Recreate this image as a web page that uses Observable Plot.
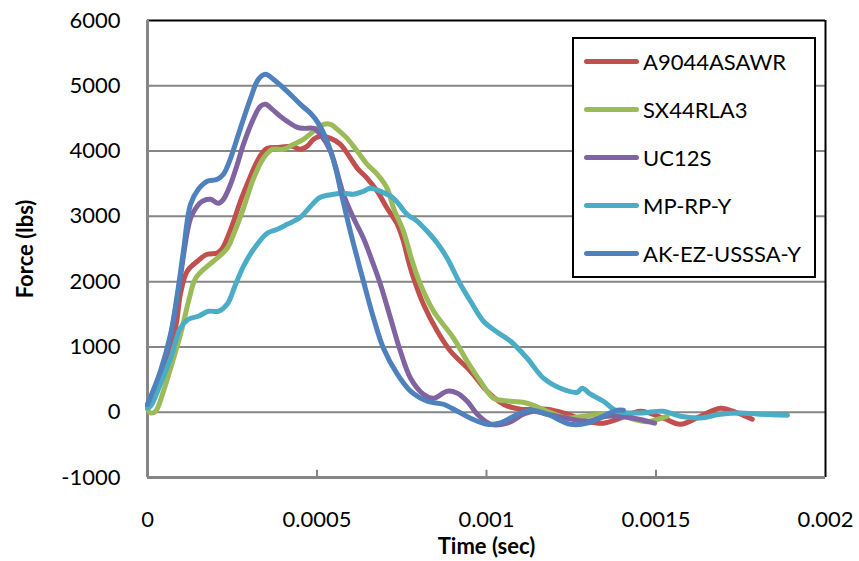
<!DOCTYPE html>
<html>
<head>
<meta charset="utf-8">
<script src="https://cdn.jsdelivr.net/npm/d3@7"></script>
<script src="https://cdn.jsdelivr.net/npm/@observablehq/plot@0.6"></script>
<style>
  body { margin: 0; background: #fff; }
  #wrap { position: relative; width: 859px; height: 561px; font-family: Lato, "Open Sans", sans-serif; }
  #wrap svg [aria-label="x-axis label"] text,
  #wrap svg [aria-label="y-axis label"] text { font-weight: bold; }
  #legend { position: absolute; left: 572px; top: 37px; width: 240px; height: 237px;
            border: 2px solid #000; background: #fff; }
  .row { position: absolute; left: 10px; height: 26px; display: flex; align-items: center; }
  .sw { width: 55px; height: 5px; border-radius: 3px; margin-right: 4px; }
  .lab { font-size: 22px; color: #000; white-space: nowrap; }
</style>
</head>
<body>
<div id="wrap"></div>
<script>
// ---- data (time in seconds, force in lbs) ----
const seriesNames = ["A9044ASAWR", "SX44RLA3", "UC12S", "MP-RP-Y", "AK-EZ-USSSA-Y"];
const seriesColors = ["#C0504D", "#9BBB59", "#8064A2", "#4BACC6", "#4F81BD"];

const A9044ASAWR = [
  [0, 92], [0.000038, 505], [0.000068, 934], [0.000086, 1393], [0.000097, 1807], [0.000117, 2159],
  [0.000147, 2312], [0.000176, 2419], [0.000206, 2439], [0.000221, 2511], [0.000235, 2664],
  [0.000254, 2924], [0.000274, 3230], [0.000294, 3491], [0.000319, 3797], [0.000338, 3965],
  [0.000353, 4042], [0.000392, 4057], [0.000427, 4073], [0.000451, 4027], [0.000471, 4073],
  [0.000490, 4180], [0.000510, 4226], [0.000540, 4195], [0.000569, 4103], [0.000599, 3889],
  [0.000619, 3736], [0.000648, 3583], [0.000678, 3383], [0.000707, 3123], [0.000737, 2878],
  [0.000755, 2618], [0.000770, 2312], [0.000785, 2052], [0.000814, 1653], [0.000855, 1240],
  [0.000894, 934], [0.000953, 628], [0.001002, 322], [0.001050, 122], [0.001100, 46],
  [0.001179, 46], [0.001238, -31], [0.001297, -138], [0.001345, -168], [0.001395, -92],
  [0.001454, 15], [0.001522, -92], [0.001572, -184], [0.001631, -61], [0.001690, 61],
  [0.001740, -11], [0.001784, -107]
];
const SX44RLA3 = [
  [0, 46], [0.000009, -11], [0.000024, 15], [0.000047, 322], [0.000077, 827], [0.000102, 1286],
  [0.000121, 1699], [0.000142, 2052], [0.000176, 2235], [0.000206, 2362], [0.000235, 2511],
  [0.000254, 2725], [0.000283, 3123], [0.000313, 3583], [0.000342, 3889], [0.000368, 4027],
  [0.000401, 4027], [0.000431, 4103], [0.000460, 4180], [0.000490, 4302], [0.000519, 4409],
  [0.000540, 4409], [0.000560, 4333], [0.000589, 4195], [0.000619, 3996], [0.000648, 3797],
  [0.000678, 3644], [0.000707, 3430], [0.000726, 3123], [0.000755, 2771], [0.000781, 2312],
  [0.000805, 1960], [0.000844, 1546], [0.000903, 1133], [0.000943, 781], [0.000982, 475],
  [0.001021, 214], [0.001071, 168], [0.001120, 138], [0.001179, 15], [0.001238, -87],
  [0.001286, -61], [0.001336, -31], [0.001386, -31], [0.001434, -107], [0.001474, -145],
  [0.001533, -61]
];
const UC12S = [
  [0, 92], [0.000038, 597], [0.000068, 1164], [0.000091, 1853], [0.000115, 2695], [0.000127, 2970],
  [0.000142, 3123], [0.000161, 3230], [0.000186, 3261], [0.000209, 3200], [0.000224, 3261],
  [0.000245, 3491], [0.000265, 3797], [0.000283, 4103], [0.000313, 4501], [0.000333, 4685],
  [0.000348, 4716], [0.000368, 4639], [0.000392, 4532], [0.000412, 4455], [0.000442, 4363],
  [0.000460, 4348], [0.000490, 4348], [0.000510, 4256], [0.000540, 3996], [0.000578, 3338],
  [0.000608, 2970], [0.000637, 2664], [0.000663, 2312], [0.000687, 1960], [0.000717, 1439],
  [0.000746, 934], [0.000776, 521], [0.000814, 276], [0.000844, 214], [0.000884, 322],
  [0.000914, 291], [0.000943, 168], [0.000973, -31], [0.001012, -184], [0.001061, -168],
  [0.001109, -31], [0.001139, 15], [0.001179, -31], [0.001238, -92], [0.001297, -138],
  [0.001356, -61], [0.001434, -92], [0.001496, -168]
];
const MP_RP_Y = [
  [0, 61], [0.000009, 92], [0.000038, 429], [0.000068, 827], [0.000097, 1286], [0.000121, 1424],
  [0.000150, 1470], [0.000180, 1546], [0.000209, 1546], [0.000235, 1653], [0.000260, 1960],
  [0.000283, 2235], [0.000313, 2496], [0.000353, 2741], [0.000383, 2802], [0.000412, 2878],
  [0.000451, 2985], [0.000481, 3154], [0.000510, 3292], [0.000549, 3338], [0.000578, 3353],
  [0.000608, 3338], [0.000637, 3383], [0.000658, 3430], [0.000687, 3383], [0.000726, 3276],
  [0.000766, 3031], [0.000796, 2924], [0.000825, 2771], [0.000855, 2587], [0.000884, 2358],
  [0.000923, 1960], [0.000953, 1699], [0.000991, 1393], [0.001032, 1225], [0.001071, 1087],
  [0.001120, 827], [0.001168, 521], [0.001218, 367], [0.001268, 306], [0.001282, 367],
  [0.001307, 276], [0.001345, 168], [0.001386, 15], [0.001454, -11], [0.001522, 15],
  [0.001572, -61], [0.001631, -87], [0.001690, -31], [0.001749, -11], [0.001808, -31],
  [0.001888, -46]
];
const AK_EZ_USSSA_Y = [
  [0, 122], [0.000038, 628], [0.000068, 1194], [0.000088, 1807], [0.000106, 2465], [0.000127, 3185],
  [0.000150, 3414], [0.000176, 3537], [0.000206, 3567], [0.000224, 3644], [0.000245, 3889],
  [0.000274, 4348], [0.000304, 4807], [0.000327, 5098], [0.000348, 5175], [0.000372, 5098],
  [0.000412, 4915], [0.000451, 4715], [0.000481, 4578], [0.000504, 4425], [0.000530, 4149],
  [0.000555, 3736], [0.000569, 3414], [0.000589, 2970], [0.000608, 2572], [0.000637, 2006],
  [0.000667, 1439], [0.000696, 980], [0.000737, 582], [0.000776, 322], [0.000825, 168],
  [0.000873, 122], [0.000914, 15], [0.000953, -92], [0.001002, -184], [0.001041, -164],
  [0.001080, -61], [0.001130, 31], [0.001179, -31], [0.001248, -184], [0.001297, -168],
  [0.001356, -31], [0.001386, 31], [0.001404, 31]
];
const seriesData = [A9044ASAWR, SX44RLA3, UC12S, MP_RP_Y, AK_EZ_USSSA_Y];

const xTicks = [0, 0.0005, 0.001, 0.0015, 0.002];
const yTicks = [-1000, 0, 1000, 2000, 3000, 4000, 5000, 6000];
const xDomain = [0, 0.002];
const yDomain = [-1000, 6000];

// ---- build table ----
const rows = [];
seriesData.forEach((arr, i) => arr.forEach(([t, f]) => rows.push({series: seriesNames[i], t, f})));

const grid = "#868686";
const chart = Plot.plot({
  width: 859,
  height: 561,
  marginLeft: 147,
  marginRight: 34,
  marginTop: 20,
  marginBottom: 84,
  style: {fontFamily: "Lato, 'Open Sans', sans-serif", fontSize: "22px", color: "#000", background: "#fff"},
  x: {domain: xDomain, ticks: xTicks},
  y: {domain: yDomain, ticks: yTicks},
  color: {domain: seriesNames, range: seriesColors},
  marks: [
    Plot.gridY(yTicks.slice(1, -1), {stroke: grid, strokeOpacity: 1, strokeWidth: 2}),
    Plot.ruleY([yDomain[1]], {stroke: "#000", strokeWidth: 2}),
    Plot.ruleX([xDomain[1]], {stroke: "#000", strokeWidth: 2}),
    Plot.ruleX([xDomain[0]], {stroke: grid, strokeWidth: 3}),
    Plot.ruleY([yDomain[0]], {stroke: grid, strokeWidth: 3}),
    Plot.ruleX(xTicks.slice(1, -1), {y1: yDomain[0], y2: yDomain[0] + 110, stroke: grid, strokeWidth: 2}),
    Plot.axisX(xTicks, {tickSize: 0, tickPadding: 34, tickFormat: d => String(d), fontSize: 22,
      label: "Time (sec)", labelAnchor: "center", labelArrow: "none", labelOffset: 76}),
    Plot.axisY(yTicks, {tickSize: 0, tickPadding: 27, tickFormat: d => String(d), fontSize: 22,
      label: "Force (lbs)", labelAnchor: "center", labelArrow: "none", labelOffset: 130}),
    Plot.line(rows, {x: "t", y: "f", z: "series", stroke: "series", strokeWidth: 5,
      curve: "catmull-rom", strokeLinecap: "round", strokeLinejoin: "round"})
  ]
});

const wrap = document.getElementById("wrap");
wrap.appendChild(chart);

// ---- legend ----
const legend = document.createElement("div");
legend.id = "legend";
seriesNames.forEach((name, i) => {
  const row = document.createElement("div");
  row.className = "row";
  row.style.top = (9 + i * 48) + "px";
  const sw = document.createElement("div");
  sw.className = "sw";
  sw.style.background = seriesColors[i];
  const lab = document.createElement("span");
  lab.className = "lab";
  lab.textContent = name;
  row.appendChild(sw);
  row.appendChild(lab);
  legend.appendChild(row);
});
wrap.appendChild(legend);
</script>
</body>
</html>
